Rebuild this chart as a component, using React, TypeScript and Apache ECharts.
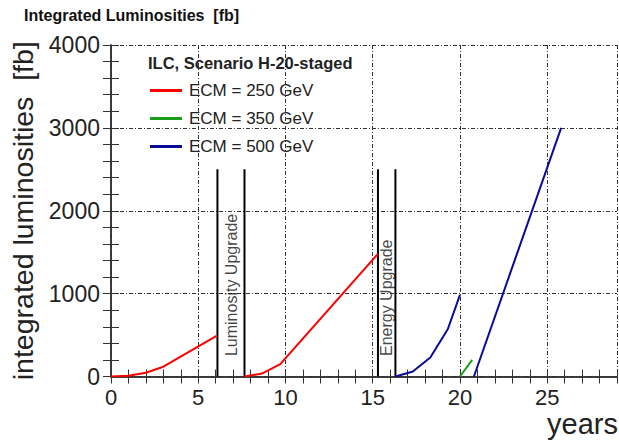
import React, { useEffect, useRef } from "react";
import * as echarts from "echarts";

const titleText = "Integrated Luminosities  [fb]";
const scenarioText = "ILC, Scenario H-20-staged";
const yAxisTitle = "integrated luminosities  [fb]";
const xAxisTitle = "years";
const seriesNames = ["ECM = 250 GeV", "ECM = 350 GeV", "ECM = 500 GeV"];
const seriesColors = ["#ff0000", "#1a9e1a", "#0a0a96"];

// ECM = 250 GeV (two running periods)
const red250a = [[0, 0], [1, 8], [2, 45], [3, 118], [6.05, 490]];
const red250b = [[7.65, 0], [8.65, 35], [9.7, 150], [15.3, 1480]];
// ECM = 350 GeV
const green350 = [[20.0, 0], [20.7, 200]];
// ECM = 500 GeV (two running periods)
const blue500a = [[16.3, 0], [17.3, 60], [18.3, 230], [19.3, 570], [20.0, 985]];
const blue500b = [[20.8, 0], [25.8, 3000]];

// upgrade shutdown markers
const upgradeEdges = [6.1, 7.65, 15.3, 16.3];
const upgradeTop = 2500;
const upgradeLabels = [
  { text: "Luminosity Upgrade", x: 6.88, y: 1105 },
  { text: "Energy Upgrade", x: 15.8, y: 950 },
];

const xMin = 0, xMax = 29, xMajor = 5, xMinor = 1;
const yMin = 0, yMax = 4000, yMajor = 1000, yMinor = 200;

const FONT = "Liberation Sans, Arial, Helvetica, sans-serif";

export default function App() {
  const ref = useRef<HTMLDivElement>(null);
  useEffect(() => {
    if (!ref.current) return;
    const chart = echarts.init(ref.current, null, { renderer: "svg" });
    const gridDash = { color: "#333", width: 1, type: [4, 2, 1, 2] as any };
    const tickAxisBase = {
      min: xMin, max: xMax, interval: xMinor, type: "value" as const,
      axisLabel: { show: false }, splitLine: { show: false },
    };
    const lineSeries = (name: string, color: string, data: number[][]) => ({
      type: "line", name, data, symbol: "none", xAxisIndex: 0, yAxisIndex: 0,
      lineStyle: { color, width: 2 }, itemStyle: { color }, silent: true,
    });
    chart.setOption({
      animation: false,
      textStyle: { fontFamily: FONT },
      title: [
        { text: titleText, left: 24, top: 7, padding: 0,
          textStyle: { fontSize: 16, fontWeight: "bold", color: "#111", fontFamily: FONT } },
        { text: scenarioText, left: 148, top: 54, padding: 0,
          textStyle: { fontSize: 16.5, fontWeight: "bold", color: "#222", fontFamily: FONT } },
      ],
      legend: {
        data: seriesNames, orient: "vertical", left: 145, top: 77,
        itemWidth: 32, itemHeight: 3, icon: "rect", itemGap: 11,
        textStyle: { fontSize: 17, color: "#222", fontFamily: FONT, padding: [0, 0, 0, 2] },
        selectedMode: false,
      },
      graphic: [
        { type: "text", right: 1, top: 409, silent: true,
          style: { text: xAxisTitle, fontSize: 29, fill: "#222", fontFamily: FONT } },
      ],
      grid: { left: 111, right: 2, top: 45, bottom: 65.5, containLabel: false, outerBoundsMode: "none" },
      xAxis: [
        {
          type: "value", min: xMin, max: xMax, interval: xMajor, position: "bottom",
          axisLine: { show: true, lineStyle: { color: "#333", width: 1.5 } },
          axisTick: { show: false },
          axisLabel: { fontSize: 22, color: "#222", margin: 10, fontFamily: FONT,
            formatter: (v: number) => (v % xMajor === 0 ? String(v) : "") },
          splitLine: { show: true, lineStyle: gridDash },
        },
        { ...tickAxisBase, position: "bottom",
          axisLine: { show: false }, axisTick: { show: true, inside: true, length: 7, lineStyle: { color: "#333" } } },
        { ...tickAxisBase, position: "top",
          axisLine: { show: true, lineStyle: { color: "#333", width: 1.5 } },
          axisTick: { show: true, inside: true, length: 7, lineStyle: { color: "#333" } } },
      ],
      yAxis: [
        {
          type: "value", min: yMin, max: yMax, interval: yMajor, position: "left",
          name: yAxisTitle, nameLocation: "middle", nameGap: 68,
          nameTextStyle: { fontSize: 28.5, color: "#222", fontFamily: FONT },
          axisLine: { show: true, lineStyle: { color: "#333", width: 1.5 } },
          axisTick: { show: false },
          axisLabel: { fontSize: 23, color: "#222", margin: 11, fontFamily: FONT,
            formatter: (v: number) => String(v) },
          splitLine: { show: true, lineStyle: gridDash },
        },
        { type: "value", min: yMin, max: yMax, interval: yMinor, position: "left",
          axisLabel: { show: false }, splitLine: { show: false }, axisLine: { show: false },
          axisTick: { show: true, inside: true, length: 8, lineStyle: { color: "#333" } } },
        { type: "value", min: yMin, max: yMax, interval: yMinor, position: "right",
          axisLabel: { show: false }, splitLine: { show: false },
          axisLine: { show: true, lineStyle: { color: "#333", width: 1.5 } },
          axisTick: { show: true, inside: true, length: 8, lineStyle: { color: "#333" } } },
      ],
      series: [
        ...upgradeEdges.map((x) => ({
          type: "line", data: [[x, 0], [x, upgradeTop]], symbol: "none", silent: true,
          lineStyle: { color: "#000", width: 2 }, z: 1,
        })),
        lineSeries(seriesNames[0], seriesColors[0], red250a),
        lineSeries(seriesNames[0], seriesColors[0], red250b),
        lineSeries(seriesNames[1], seriesColors[1], green350),
        lineSeries(seriesNames[2], seriesColors[2], blue500a),
        lineSeries(seriesNames[2], seriesColors[2], blue500b),
        {
          type: "scatter", symbolSize: 0, silent: true,
          data: upgradeLabels.map((l) => ({ value: [l.x, l.y], name: l.text })),
          label: { show: true, position: "inside", rotate: 90, formatter: (p: any) => p.name,
            fontSize: 16, color: "#111", fontFamily: FONT },
        },
      ],
    });
    return () => chart.dispose();
  }, []);
  return <div ref={ref} style={{ position: "fixed", left: 0, top: 0, width: 619, height: 442, background: "#fff" }} />;
}
